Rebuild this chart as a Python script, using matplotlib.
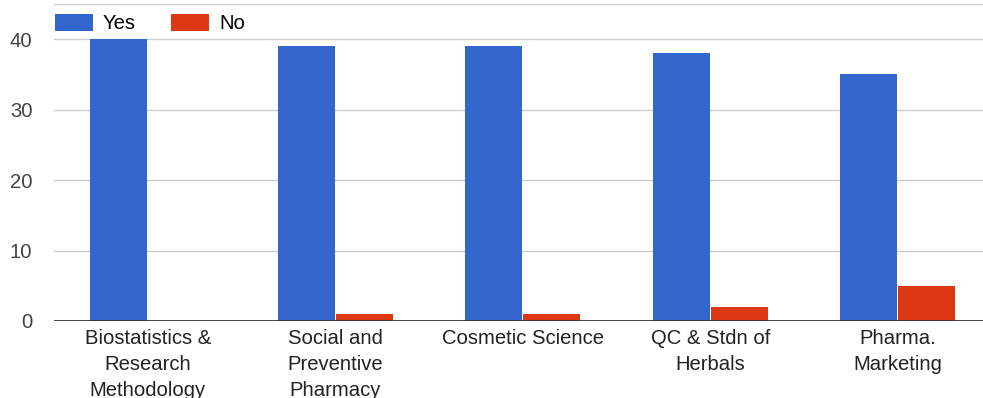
import numpy as np
import matplotlib.pyplot as plt

plt.rcParams['font.family'] = ['Liberation Sans', 'DejaVu Sans']

subjects = ['Biostatistics &\nResearch\nMethodology', 'Social and\nPreventive\nPharmacy',
            'Cosmetic Science', 'QC & Stdn of\nHerbals', 'Pharma.\nMarketing']
yes = [40, 39, 39, 38, 35]
no = [0, 1, 1, 2, 5]

fig = plt.figure(figsize=(9.83, 3.98), dpi=100)
ax = fig.add_axes([54 / 983, 77 / 398, 937.5 / 983, 317 / 398])

x = np.arange(len(subjects))
w = 0.304
ax.bar(x - w / 2 - 0.002, yes, width=w, color='#3366cc', label='Yes', zorder=2)
ax.bar(x + w / 2 + 0.002, no, width=w, color='#dc3912', label='No', zorder=2)

ax.set_xlim(-0.5, len(subjects) - 0.5)
ax.set_ylim(0, 45)
ax.set_yticks([0, 10, 20, 30, 40])
for v in [10, 20, 30, 40, 45]:
    ax.axhline(v, color='#cccccc', lw=1, zorder=1)
ax.axhline(0, color='#333333', lw=2, zorder=3)

for s in ax.spines.values():
    s.set_visible(False)
ax.tick_params(axis='both', length=0, labelsize=14.6, colors='#222222')
ax.tick_params(axis='y', pad=15.5, labelcolor='#444444')
ax.tick_params(axis='x', pad=6)
ax.set_xticks(x)
ax.set_xticklabels(subjects, linespacing=1.45, va='top')

ax.legend(loc='upper left', bbox_to_anchor=(55 / 983, 1 - 14 / 398), bbox_transform=fig.transFigure,
          ncol=2, frameon=False, fontsize=14.6, handlelength=1.87, handleheight=0.89,
          columnspacing=1.72, handletextpad=0.5, borderaxespad=0, borderpad=0)

fig.savefig('out.png', dpi=100, facecolor='white')
